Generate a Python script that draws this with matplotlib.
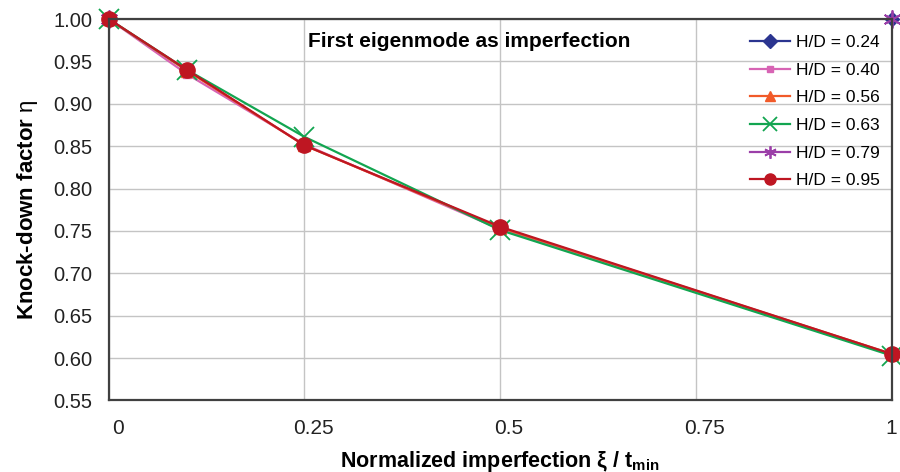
import numpy as np
import matplotlib
matplotlib.use("Agg")
import matplotlib.pyplot as plt
from matplotlib.transforms import ScaledTranslation

plt.rcParams['font.family'] = ['Liberation Sans', 'DejaVu Sans']
plt.rcParams['mathtext.fontset'] = 'custom'
plt.rcParams['mathtext.rm'] = 'Liberation Sans'
plt.rcParams['mathtext.bf'] = 'Liberation Sans:bold'

x = [0, 0.1, 0.25, 0.5, 1.0]
nan = np.nan
hd_024 = [1.0, nan, nan, nan, 1.0]
hd_040 = [1.0, 0.935, 0.852, 0.752, 0.604]
hd_056 = [1.0, 0.939, 0.851, 0.754, 0.605]
hd_063 = [1.0, 0.940, 0.861, 0.751, 0.603]
hd_079 = [1.0, nan, nan, nan, 1.0]
hd_095 = [1.0, 0.940, 0.851, 0.755, 0.605]

labels = ["H/D = 0.24", "H/D = 0.40", "H/D = 0.56", "H/D = 0.63", "H/D = 0.79", "H/D = 0.95"]
xticks = [0, 0.25, 0.5, 0.75, 1]
xticklabels = ["0", "0.25", "0.5", "0.75", "1"]
yticks = [0.55, 0.60, 0.65, 0.70, 0.75, 0.80, 0.85, 0.90, 0.95, 1.00]

fig = plt.figure(figsize=(9, 4.72), dpi=100)
ax = fig.add_axes([0.1208, 0.1515, 0.9906 - 0.1208, 0.9597 - 0.1515])

styles = [
    dict(color='#2B3590', marker='D', ms=7),
    dict(color='#D764B4', marker='s', ms=6),
    dict(color='#F15A29', marker='^', ms=8),
    dict(color='#12A550', marker='x', ms=15, mew=1.3),
    dict(color='#9B3FA8', marker=(6, 2, 0), ms=13, mew=1.3),
    dict(color='#BE1622', marker='o', ms=11),
]
legend_ms = [7, 5, 7, 10, 9, 8]
series = [hd_024, hd_040, hd_056, hd_063, hd_079, hd_095]
for ys, lab, st in zip(series, labels, styles):
    mew = st.pop('mew', 1.0)
    ax.plot(x, ys, label=lab, lw=1.6, clip_on=False, mew=mew, **st)

ax.set_xlim(0, 1)
ax.set_ylim(0.55, 1.00)
ax.set_xticks(xticks)
ax.set_xticklabels(xticklabels)
ax.set_yticks(yticks)
ax.set_yticklabels([f"{v:.2f}" for v in yticks])
ax.grid(True, color='#C4C4C4', lw=1.0)
ax.set_axisbelow(True)
for s in ax.spines.values():
    s.set_color('#404040')
    s.set_linewidth(1.6)
    s.set_zorder(2.5)
ax.tick_params(length=0, colors='#222222')
ax.tick_params(axis='y', pad=12, labelsize=14.5)
ax.tick_params(axis='x', pad=13, labelsize=15)
for i, lbl in enumerate(ax.get_xticklabels()):
    if i < 4:
        lbl.set_transform(lbl.get_transform() + ScaledTranslation(9/100, 0, fig.dpi_scale_trans))

ax.set_ylabel(r"Knock-down factor $\mathrm{\eta}$", fontsize=16, fontweight='bold', labelpad=9)
ax.set_xlabel(r"Normalized imperfection ξ / t$_{\mathbf{min}}$", fontsize=15.5, fontweight='bold', labelpad=8)
ax.text(0.46, 0.94, "First eigenmode as imperfection", transform=ax.transAxes,
        ha='center', va='center', fontsize=15, fontweight='bold')

leg = ax.legend(loc='upper right', bbox_to_anchor=(1.0, 0.99), frameon=False, fontsize=12.5,
                handlelength=2.3, labelspacing=0.72, handletextpad=0.3, borderaxespad=0.3)
for h, ms in zip(leg.legend_handles, legend_ms):
    h.set_markersize(ms)

fig.savefig("out.png", dpi=100)
